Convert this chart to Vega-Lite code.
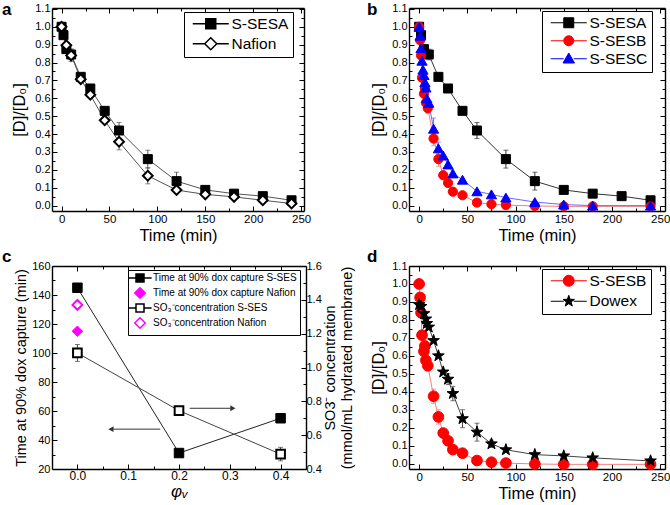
{
"$schema": "https://vega.github.io/schema/vega-lite/v6.json",
"background": "white",
"padding": {"left": 2, "top": 0, "right": 0, "bottom": 0},
"config": {
  "font": "Liberation Sans",
  "view": {"stroke": null},
  "axis": {"grid": false, "domainColor": "#000", "domainWidth": 1.4, "tickColor": "#000", "tickWidth": 1, "labelColor": "#000", "labelFontSize": 11, "titleColor": "#000", "titleFontWeight": "normal", "titleFontSize": 16.5, "labelFont": "Liberation Sans", "titleFont": "Liberation Sans", "labelPadding": 7, "labelFlush": false, "labelOverlap": false},
  "legend": {"strokeColor": "#000", "fillColor": "#fff", "labelColor": "#000", "labelFont": "Liberation Sans", "cornerRadius": 0, "strokeWidth": 1},
  "title": {"font": "Liberation Sans", "color": "#000", "fontWeight": "bold", "fontSize": 17, "anchor": "start", "frame": "group", "offset": 0, "baseline": "alphabetic"}
},
"datasets": {
  "a": [
    {"s":"S-SESA","t":0,"v":1.0,"e":0},
    {"s":"S-SESA","t":2,"v":0.953,"e":0},
    {"s":"S-SESA","t":5,"v":0.875,"e":0},
    {"s":"S-SESA","t":10,"v":0.845,"e":0.03},
    {"s":"S-SESA","t":20,"v":0.72,"e":0},
    {"s":"S-SESA","t":30,"v":0.655,"e":0},
    {"s":"S-SESA","t":45,"v":0.53,"e":0},
    {"s":"S-SESA","t":60,"v":0.42,"e":0.045},
    {"s":"S-SESA","t":90,"v":0.26,"e":0.05},
    {"s":"S-SESA","t":120,"v":0.137,"e":0.05},
    {"s":"S-SESA","t":150,"v":0.088,"e":0.02},
    {"s":"S-SESA","t":180,"v":0.067,"e":0},
    {"s":"S-SESA","t":210,"v":0.053,"e":0},
    {"s":"S-SESA","t":240,"v":0.03,"e":0},
    {"s":"Nafion","t":0,"v":1.0,"e":0},
    {"s":"Nafion","t":5,"v":0.897,"e":0},
    {"s":"Nafion","t":10,"v":0.84,"e":0.035},
    {"s":"Nafion","t":20,"v":0.707,"e":0},
    {"s":"Nafion","t":30,"v":0.62,"e":0},
    {"s":"Nafion","t":45,"v":0.477,"e":0},
    {"s":"Nafion","t":60,"v":0.357,"e":0.045},
    {"s":"Nafion","t":90,"v":0.167,"e":0.045},
    {"s":"Nafion","t":120,"v":0.087,"e":0},
    {"s":"Nafion","t":150,"v":0.063,"e":0},
    {"s":"Nafion","t":180,"v":0.049,"e":0},
    {"s":"Nafion","t":210,"v":0.03,"e":0},
    {"s":"Nafion","t":240,"v":0.012,"e":0}
  ],
  "b": [
    {"s":"S-SESA","t":0,"v":1.0,"e":0},
    {"s":"S-SESA","t":2,"v":0.953,"e":0},
    {"s":"S-SESA","t":5,"v":0.875,"e":0},
    {"s":"S-SESA","t":10,"v":0.845,"e":0.03},
    {"s":"S-SESA","t":20,"v":0.72,"e":0},
    {"s":"S-SESA","t":30,"v":0.655,"e":0},
    {"s":"S-SESA","t":45,"v":0.53,"e":0},
    {"s":"S-SESA","t":60,"v":0.42,"e":0.045},
    {"s":"S-SESA","t":90,"v":0.26,"e":0.05},
    {"s":"S-SESA","t":120,"v":0.137,"e":0.05},
    {"s":"S-SESA","t":150,"v":0.088,"e":0.02},
    {"s":"S-SESA","t":180,"v":0.067,"e":0},
    {"s":"S-SESA","t":210,"v":0.053,"e":0},
    {"s":"S-SESA","t":240,"v":0.03,"e":0},
    {"s":"S-SESB","t":0,"v":1.0,"e":0},
    {"s":"S-SESB","t":1,"v":0.925,"e":0},
    {"s":"S-SESB","t":2,"v":0.84,"e":0},
    {"s":"S-SESB","t":3,"v":0.715,"e":0},
    {"s":"S-SESB","t":5,"v":0.625,"e":0},
    {"s":"S-SESB","t":6,"v":0.655,"e":0},
    {"s":"S-SESB","t":7,"v":0.575,"e":0},
    {"s":"S-SESB","t":9,"v":0.545,"e":0.03},
    {"s":"S-SESB","t":15,"v":0.375,"e":0.04},
    {"s":"S-SESB","t":20,"v":0.26,"e":0.04},
    {"s":"S-SESB","t":25,"v":0.17,"e":0.015},
    {"s":"S-SESB","t":30,"v":0.127,"e":0},
    {"s":"S-SESB","t":35,"v":0.078,"e":0},
    {"s":"S-SESB","t":45,"v":0.058,"e":0},
    {"s":"S-SESB","t":60,"v":0.017,"e":0},
    {"s":"S-SESB","t":75,"v":0.008,"e":0},
    {"s":"S-SESB","t":90,"v":0.003,"e":0},
    {"s":"S-SESB","t":120,"v":-0.002,"e":0},
    {"s":"S-SESB","t":150,"v":-0.004,"e":0},
    {"s":"S-SESB","t":180,"v":-0.004,"e":0},
    {"s":"S-SESB","t":240,"v":-0.004,"e":0},
    {"s":"S-SESC","t":0,"v":1.0,"e":0},
    {"s":"S-SESC","t":1,"v":0.95,"e":0},
    {"s":"S-SESC","t":2,"v":0.88,"e":0},
    {"s":"S-SESC","t":3,"v":0.81,"e":0},
    {"s":"S-SESC","t":4,"v":0.76,"e":0},
    {"s":"S-SESC","t":5,"v":0.73,"e":0},
    {"s":"S-SESC","t":6,"v":0.69,"e":0},
    {"s":"S-SESC","t":7,"v":0.66,"e":0},
    {"s":"S-SESC","t":8,"v":0.6,"e":0},
    {"s":"S-SESC","t":10,"v":0.575,"e":0},
    {"s":"S-SESC","t":15,"v":0.43,"e":0.06},
    {"s":"S-SESC","t":20,"v":0.32,"e":0.035},
    {"s":"S-SESC","t":25,"v":0.28,"e":0},
    {"s":"S-SESC","t":30,"v":0.23,"e":0},
    {"s":"S-SESC","t":35,"v":0.18,"e":0},
    {"s":"S-SESC","t":45,"v":0.145,"e":0},
    {"s":"S-SESC","t":60,"v":0.08,"e":0},
    {"s":"S-SESC","t":75,"v":0.063,"e":0},
    {"s":"S-SESC","t":90,"v":0.045,"e":0},
    {"s":"S-SESC","t":120,"v":0.02,"e":0},
    {"s":"S-SESC","t":150,"v":0.006,"e":0},
    {"s":"S-SESC","t":180,"v":0.0,"e":0},
    {"s":"S-SESC","t":240,"v":0.0,"e":0}
  ],
  "d": [
    {"s":"S-SESB","t":0,"v":1.0,"e":0},
    {"s":"S-SESB","t":1,"v":0.925,"e":0},
    {"s":"S-SESB","t":2,"v":0.84,"e":0},
    {"s":"S-SESB","t":3,"v":0.715,"e":0},
    {"s":"S-SESB","t":5,"v":0.625,"e":0},
    {"s":"S-SESB","t":6,"v":0.655,"e":0},
    {"s":"S-SESB","t":7,"v":0.575,"e":0},
    {"s":"S-SESB","t":9,"v":0.545,"e":0.03},
    {"s":"S-SESB","t":15,"v":0.375,"e":0.04},
    {"s":"S-SESB","t":20,"v":0.26,"e":0.04},
    {"s":"S-SESB","t":25,"v":0.17,"e":0.015},
    {"s":"S-SESB","t":30,"v":0.127,"e":0},
    {"s":"S-SESB","t":35,"v":0.078,"e":0},
    {"s":"S-SESB","t":45,"v":0.058,"e":0},
    {"s":"S-SESB","t":60,"v":0.017,"e":0},
    {"s":"S-SESB","t":75,"v":0.008,"e":0},
    {"s":"S-SESB","t":90,"v":0.003,"e":0},
    {"s":"S-SESB","t":120,"v":-0.002,"e":0},
    {"s":"S-SESB","t":150,"v":-0.004,"e":0},
    {"s":"S-SESB","t":180,"v":-0.004,"e":0},
    {"s":"S-SESB","t":240,"v":-0.004,"e":0},
    {"s":"Dowex","t":0,"v":0.885,"e":0},
    {"s":"Dowex","t":2,"v":0.875,"e":0},
    {"s":"Dowex","t":5,"v":0.835,"e":0},
    {"s":"Dowex","t":7,"v":0.805,"e":0},
    {"s":"Dowex","t":8,"v":0.78,"e":0},
    {"s":"Dowex","t":10,"v":0.76,"e":0},
    {"s":"Dowex","t":15,"v":0.685,"e":0},
    {"s":"Dowex","t":20,"v":0.6,"e":0},
    {"s":"Dowex","t":25,"v":0.51,"e":0},
    {"s":"Dowex","t":30,"v":0.47,"e":0.03},
    {"s":"Dowex","t":35,"v":0.39,"e":0.04},
    {"s":"Dowex","t":45,"v":0.25,"e":0.05},
    {"s":"Dowex","t":60,"v":0.175,"e":0.05},
    {"s":"Dowex","t":75,"v":0.11,"e":0.02},
    {"s":"Dowex","t":90,"v":0.077,"e":0.012},
    {"s":"Dowex","t":120,"v":0.05,"e":0},
    {"s":"Dowex","t":150,"v":0.043,"e":0},
    {"s":"Dowex","t":180,"v":0.032,"e":0},
    {"s":"Dowex","t":240,"v":0.015,"e":0.01}
  ],
  "ct": [
    {"s":"Time at 90% dox capture S-SES","x":0,"y":145},
    {"s":"Time at 90% dox capture S-SES","x":0.2,"y":31},
    {"s":"Time at 90% dox capture S-SES","x":0.4,"y":55},
    {"s":"Time at 90% dox capture Nafion","x":0,"y":115}
  ],
  "cs": [
    {"s":"SO₃⁻concentration S-SES","x":0,"y":1.086,"e":0.05},
    {"s":"SO₃⁻concentration S-SES","x":0.2,"y":0.745,"e":0.025},
    {"s":"SO₃⁻concentration S-SES","x":0.4,"y":0.488,"e":0.04},
    {"s":"SO₃⁻concentration Nafion","x":0,"y":1.37,"e":0}
  ],
  "cal": [{"x":0.163,"x2":0.066,"y":47.5}],
  "car": [{"x":0.221,"x2":0.306,"y":0.759}]
},
"columns": 2,
"spacing": {"row": 55, "column": 103},
"bounds": "flush",
"resolve": {"scale": {"color":"independent","fill":"independent","stroke":"independent","shape":"independent"}},
"concat": [
  {
   "width": 252, "height": 203,
   "title": {"text": "a", "dx": -50, "dy": 20},
   "data": {"name": "a"},
   "resolve": {"axis": {"x": "independent", "y": "independent"}},
   "layer": [
    {
     "encoding": {
      "x": {"field":"t","type":"quantitative","scale":{"domain":[-10,253],"nice":false,"zero":false},
            "axis":{"orient":"bottom","values":[0,50,100,150,200,250],"tickSize":-5,"title":"Time (min)","titlePadding":3,"labelFontSize":11.5,"labelPadding":7}},
      "y": {"field":"v","type":"quantitative","scale":{"domain":[-0.03,1.105],"nice":false,"zero":false},
            "axis":{"orient":"left","values":[0,0.1,0.2,0.3,0.4,0.5,0.6,0.7,0.8,0.9,1.0,1.1],"format":".1f","tickSize":-5,"title":"[D]/[D₀]","titlePadding":7,"labelPadding":7}}
     },
     "layer": [
      {"transform":[{"filter":"datum.e > 0"}],"mark":{"type":"errorbar","ticks":true,"thickness":1},
       "encoding":{"yError":{"field":"e"},"color":{"field":"s","type":"nominal","scale":{"range":["#555","#555"]},"legend":null}}},
      {"mark":{"type":"line","strokeWidth":1},"encoding":{"color":{"field":"s","type":"nominal","legend":null}}},
      {"transform":[{"filter":"datum.s == 'S-SESA'"}],"mark":{"type":"point","shape":"square","filled":true,"fill":"#000","stroke":"#000","strokeWidth":1,"size":81,"opacity":1}},
      {"transform":[{"filter":"datum.s == 'Nafion'"}],"mark":{"type":"point","shape":"diamond","filled":true,"fill":"#fff","stroke":"#000","strokeWidth":2,"size":95,"opacity":1}},
      {"transform":[{"filter":"false"}],"mark":{"type":"point","filled":true,"opacity":1},"encoding":{
        "fill":{"field":"s","type":"nominal","scale":{"domain":["S-SESA","Nafion"],"range":["#000","#fff"]},
          "legend":{"orient":"none","legendX":132,"legendY":4,"title":null,"padding":4,"rowPadding":1,"labelFontSize":15.5,"symbolSize":100,"symbolOffset":0,"labelOffset":28,"symbolStrokeWidth":1.5}},
        "stroke":{"field":"s","type":"nominal","scale":{"domain":["S-SESA","Nafion"],"range":["#000","#000"]}},
        "shape":{"field":"s","type":"nominal","scale":{"domain":["S-SESA","Nafion"],"range":["M-0.6,0H2M4,0H6.6M2,-1H4V1H2Z","M-0.6,0H1.8M4.2,0H6.6M3,-1.2L4.2,0L3,1.2L1.8,0Z"]}}
      }}
     ]
    },
    {"mark":{"type":"point","opacity":0},"encoding":{
      "x":{"field":"t","type":"quantitative","axis":{"orient":"top","values":[0,50,100,150,200,250],"tickSize":-5,"labels":false,"title":null}},
      "y":{"field":"v","type":"quantitative","axis":{"orient":"right","values":[0,0.1,0.2,0.3,0.4,0.5,0.6,0.7,0.8,0.9,1.0,1.1],"tickSize":-5,"labels":false,"title":null}}}},
    {"mark":{"type":"point","opacity":0},"encoding":{
      "x":{"field":"t","type":"quantitative","axis":{"orient":"bottom","values":[25,75,125,175,225],"tickSize":-3,"labels":false,"title":null,"domain":false}},
      "y":{"field":"v","type":"quantitative","axis":{"orient":"left","values":[0.05,0.15,0.25,0.35,0.45,0.55,0.65,0.75,0.85,0.95,1.05],"tickSize":-3,"labels":false,"title":null,"domain":false}}}},
    {"mark":{"type":"point","opacity":0},"encoding":{
      "x":{"field":"t","type":"quantitative","axis":{"orient":"top","values":[25,75,125,175,225],"tickSize":-3,"labels":false,"title":null,"domain":false}},
      "y":{"field":"v","type":"quantitative","axis":{"orient":"right","values":[0.05,0.15,0.25,0.35,0.45,0.55,0.65,0.75,0.85,0.95,1.05],"tickSize":-3,"labels":false,"title":null,"domain":false}}}}
   ]
  },
  {
   "width": 256, "height": 203,
   "title": {"text": "b", "dx": -42, "dy": 20},
   "data": {"name": "b"},
   "resolve": {"axis": {"x": "independent", "y": "independent"}},
   "layer": [
    {
     "encoding": {
      "x": {"field":"t","type":"quantitative","scale":{"domain":[-10.5,255],"nice":false,"zero":false},
            "axis":{"orient":"bottom","values":[0,50,100,150,200,250],"tickSize":-5,"title":"Time (min)","titlePadding":3,"labelFontSize":11.5,"labelPadding":7}},
      "y": {"field":"v","type":"quantitative","scale":{"domain":[-0.03,1.105],"nice":false,"zero":false},
            "axis":{"orient":"left","values":[0,0.1,0.2,0.3,0.4,0.5,0.6,0.7,0.8,0.9,1.0,1.1],"format":".1f","tickSize":-5,"title":"[D]/[D₀]","titlePadding":5,"labelPadding":7}}
     },
     "layer": [
      {"transform":[{"filter":"datum.e > 0"}],"mark":{"type":"errorbar","ticks":true,"thickness":1},
       "encoding":{"yError":{"field":"e"},"color":{"field":"s","type":"nominal","scale":{"range":["#333","#f08080","#6a6aff"]},"legend":null}}},
      {"mark":{"type":"line","strokeWidth":1},"encoding":{"color":{"field":"s","type":"nominal","legend":null}}},
      {"transform":[{"filter":"datum.s == 'S-SESA'"}],"mark":{"type":"point","shape":"square","filled":true,"fill":"#000","stroke":"#000","strokeWidth":1,"size":81,"opacity":1}},
      {"transform":[{"filter":"datum.s == 'S-SESB'"}],"mark":{"type":"point","shape":"circle","filled":true,"fill":"#f00","stroke":"#f00","strokeWidth":1,"size":85,"opacity":1}},
      {"transform":[{"filter":"datum.s == 'S-SESC'"}],"mark":{"type":"point","shape":"triangle-up","filled":true,"fill":"#00f","stroke":"#00f","strokeWidth":1,"size":105,"opacity":1}},
      {"transform":[{"filter":"false"}],"mark":{"type":"point","filled":true,"opacity":1},"encoding":{
        "fill":{"field":"s","type":"nominal","scale":{"domain":["S-SESA","S-SESB","S-SESC"],"range":["#000","#f00","#00f"]},
          "legend":{"orient":"none","legendX":133,"legendY":3,"title":null,"padding":4,"rowPadding":1,"labelFontSize":15.5,"symbolSize":100,"symbolOffset":0,"labelOffset":28,"symbolStrokeWidth":1}},
        "stroke":{"field":"s","type":"nominal","scale":{"domain":["S-SESA","S-SESB","S-SESC"],"range":["#000","#f00","#00f"]}},
        "shape":{"field":"s","type":"nominal","scale":{"domain":["S-SESA","S-SESB","S-SESC"],"range":["M-0.6,0H2M4,0H6.6M2,-1H4V1H2Z","M-0.6,0H2M4,0H6.6M2,0A1,1,0,1,0,4,0A1,1,0,1,0,2,0Z","M-0.6,0H2M4,0H6.6M3,-1.15L4.15,0.85L1.85,0.85Z"]}}
      }}
     ]
    },
    {"mark":{"type":"point","opacity":0},"encoding":{
      "x":{"field":"t","type":"quantitative","axis":{"orient":"top","values":[0,50,100,150,200,250],"tickSize":-5,"labels":false,"title":null}},
      "y":{"field":"v","type":"quantitative","axis":{"orient":"right","values":[0,0.1,0.2,0.3,0.4,0.5,0.6,0.7,0.8,0.9,1.0,1.1],"tickSize":-5,"labels":false,"title":null}}}},
    {"mark":{"type":"point","opacity":0},"encoding":{
      "x":{"field":"t","type":"quantitative","axis":{"orient":"bottom","values":[25,75,125,175,225],"tickSize":-3,"labels":false,"title":null,"domain":false}},
      "y":{"field":"v","type":"quantitative","axis":{"orient":"left","values":[0.05,0.15,0.25,0.35,0.45,0.55,0.65,0.75,0.85,0.95,1.05],"tickSize":-3,"labels":false,"title":null,"domain":false}}}},
    {"mark":{"type":"point","opacity":0},"encoding":{
      "x":{"field":"t","type":"quantitative","axis":{"orient":"top","values":[25,75,125,175,225],"tickSize":-3,"labels":false,"title":null,"domain":false}},
      "y":{"field":"v","type":"quantitative","axis":{"orient":"right","values":[0.05,0.15,0.25,0.35,0.45,0.55,0.65,0.75,0.85,0.95,1.05],"tickSize":-3,"labels":false,"title":null,"domain":false}}}}
   ]
  },
  {
   "width": 254, "height": 203,
   "title": {"text": "c", "dx": -50, "dy": 10},
   "resolve": {"scale": {"y": "independent"}, "axis": {"x": "independent", "y": "independent"}},
   "layer": [
    {
     "data": {"name": "ct"},
     "encoding": {
      "x": {"field":"x","type":"quantitative","scale":{"domain":[-0.05,0.45],"nice":false,"zero":false},
            "axis":{"orient":"bottom","values":[0,0.1,0.2,0.3,0.4],"format":".1f","tickSize":-5,"title":"φᵥ","titleFontStyle":"italic","titleFontSize":17,"titlePadding":2,"labelFontSize":12,"labelPadding":6.5}},
      "y": {"field":"y","type":"quantitative","scale":{"domain":[20,160],"nice":false,"zero":false},
            "axis":{"orient":"left","values":[20,40,60,80,100,120,140,160],"tickSize":-5,"title":"Time at 90% dox capture (min)","titleFontSize":14.5,"titlePadding":3,"labelFontSize":11,"labelPadding":7}}
     },
     "layer": [
      {"transform":[{"filter":"indexof(datum.s,'S-SES') >= 0"}],"mark":{"type":"line","color":"#222","strokeWidth":1}},
      {"transform":[{"filter":"indexof(datum.s,'S-SES') >= 0"}],"mark":{"type":"point","shape":"square","filled":true,"fill":"#000","stroke":"#000","strokeWidth":1,"size":90,"opacity":1}},
      {"transform":[{"filter":"indexof(datum.s,'Nafion') >= 0"}],"mark":{"type":"point","shape":"diamond","filled":true,"fill":"#f0f","stroke":"#f0f","strokeWidth":1,"size":110,"opacity":1}},
      {"data":{"name":"cal"},"mark":{"type":"rule","color":"#333","strokeWidth":1},"encoding":{"x2":{"field":"x2"}}},
      {"data":{"name":"cal"},"mark":{"type":"point","shape":"triangle-left","filled":true,"color":"#333","size":35,"opacity":1},"encoding":{"x":{"field":"x2","type":"quantitative"}}},
      {"transform":[{"filter":"false"}],"mark":{"type":"point","filled":true,"opacity":1},"encoding":{
        "fill":{"field":"s","type":"nominal","scale":{"domain":["Time at 90% dox capture S-SES","Time at 90% dox capture Nafion","SO₃⁻concentration S-SES","SO₃⁻concentration Nafion"],"range":["#000","#f0f","#fff","#fff"]},
          "legend":{"orient":"none","legendX":76,"legendY":4,"title":null,"padding":3,"rowPadding":-1,"labelFontSize":10,"labelLimit":300,"symbolSize":64,"symbolOffset":0,"labelOffset":12,"symbolStrokeWidth":1.5}},
        "stroke":{"field":"s","type":"nominal","scale":{"domain":["Time at 90% dox capture S-SES","Time at 90% dox capture Nafion","SO₃⁻concentration S-SES","SO₃⁻concentration Nafion"],"range":["#000","#f0f","#000","#f0f"]}},
        "shape":{"field":"s","type":"nominal","scale":{"domain":["Time at 90% dox capture S-SES","Time at 90% dox capture Nafion","SO₃⁻concentration S-SES","SO₃⁻concentration Nafion"],"range":["M-1.9,0H0M2,0H3.9M0,-1H2V1H0Z","M1,-1.3L2.3,0L1,1.3L-0.3,0Z","M-1.9,0H0M2,0H3.9M0,-1H2V1H0Z","M1,-1.3L2.3,0L1,1.3L-0.3,0Z"]}}
      }}
     ]
    },
    {
     "data": {"name": "cs"},
     "encoding": {
      "x": {"field":"x","type":"quantitative","scale":{"domain":[-0.05,0.45],"nice":false,"zero":false},
            "axis":{"orient":"top","values":[0,0.1,0.2,0.3,0.4],"tickSize":-5,"labels":false,"title":null}},
      "y": {"field":"y","type":"quantitative","scale":{"domain":[0.4,1.6],"nice":false,"zero":false},
            "axis":{"orient":"right","values":[0.4,0.6,0.8,1.0,1.2,1.4,1.6],"format":".1f","tickSize":-5,"title":["SO3⁻ concentration","(mmol/mL hydrated membrane)"],"titleAngle":270,"titleFontSize":14.5,"titlePadding":0,"labelFontSize":11,"labelPadding":5}}
     },
     "layer": [
      {"transform":[{"filter":"datum.e > 0"}],"mark":{"type":"errorbar","ticks":true,"thickness":1,"color":"#444"},"encoding":{"yError":{"field":"e"}}},
      {"transform":[{"filter":"indexof(datum.s,'S-SES') >= 0"}],"mark":{"type":"line","color":"#444","strokeWidth":1}},
      {"transform":[{"filter":"indexof(datum.s,'S-SES') >= 0"}],"mark":{"type":"point","shape":"square","filled":true,"fill":"#fff","stroke":"#000","strokeWidth":2,"size":75,"opacity":1}},
      {"transform":[{"filter":"indexof(datum.s,'Nafion') >= 0"}],"mark":{"type":"point","shape":"diamond","filled":true,"fill":"#fff","stroke":"#f0f","strokeWidth":2,"size":95,"opacity":1}},
      {"data":{"name":"car"},"mark":{"type":"rule","color":"#333","strokeWidth":1},"encoding":{"x2":{"field":"x2"}}},
      {"data":{"name":"car"},"mark":{"type":"point","shape":"triangle-right","filled":true,"color":"#333","size":35,"opacity":1},"encoding":{"x":{"field":"x2","type":"quantitative"}}}
     ]
    },
    {"data":{"name":"ct"},"mark":{"type":"point","opacity":0},"encoding":{
      "x":{"field":"x","type":"quantitative","scale":{"domain":[-0.05,0.45],"nice":false,"zero":false},"axis":{"orient":"bottom","values":[0.05,0.15,0.25,0.35],"tickSize":-3,"labels":false,"title":null,"domain":false}},
      "y":{"field":"y","type":"quantitative","scale":{"domain":[20,160],"nice":false,"zero":false},"axis":{"orient":"left","values":[30,50,70,90,110,130,150],"tickSize":-3,"labels":false,"title":null,"domain":false}}}},
    {"data":{"name":"cs"},"mark":{"type":"point","opacity":0},"encoding":{
      "x":{"field":"x","type":"quantitative","scale":{"domain":[-0.05,0.45],"nice":false,"zero":false},"axis":{"orient":"top","values":[0.05,0.15,0.25,0.35],"tickSize":-3,"labels":false,"title":null,"domain":false}},
      "y":{"field":"y","type":"quantitative","scale":{"domain":[0.4,1.6],"nice":false,"zero":false},"axis":{"orient":"right","values":[0.5,0.7,0.9,1.1,1.3,1.5],"tickSize":-3,"labels":false,"title":null,"domain":false}}}}
   ]
  },
  {
   "width": 256, "height": 203,
   "title": {"text": "d", "dx": -42, "dy": 10},
   "data": {"name": "d"},
   "resolve": {"axis": {"x": "independent", "y": "independent"}},
   "layer": [
    {
     "encoding": {
      "x": {"field":"t","type":"quantitative","scale":{"domain":[-10.5,255],"nice":false,"zero":false},
            "axis":{"orient":"bottom","values":[0,50,100,150,200,250],"tickSize":-5,"title":"Time (min)","titlePadding":3,"labelFontSize":11.5,"labelPadding":7}},
      "y": {"field":"v","type":"quantitative","scale":{"domain":[-0.03,1.1],"nice":false,"zero":false},
            "axis":{"orient":"left","values":[0,0.1,0.2,0.3,0.4,0.5,0.6,0.7,0.8,0.9,1.0,1.1],"format":".1f","tickSize":-5,"title":"[D]/[D₀]","titlePadding":5,"labelPadding":7}}
     },
     "layer": [
      {"transform":[{"filter":"datum.e > 0"}],"mark":{"type":"errorbar","ticks":true,"thickness":1},
       "encoding":{"yError":{"field":"e"},"color":{"field":"s","type":"nominal","scale":{"range":["#444","#f08080"]},"legend":null}}},
      {"mark":{"type":"line","strokeWidth":1},"encoding":{"color":{"field":"s","type":"nominal","legend":null}}},
      {"transform":[{"filter":"datum.s == 'S-SESB'"}],"mark":{"type":"point","shape":"circle","filled":true,"fill":"#f00","stroke":"#f00","strokeWidth":1,"size":115,"opacity":1}},
      {"transform":[{"filter":"datum.s == 'Dowex'"}],"mark":{"type":"point","shape":"M0,-1L0.235,-0.324L0.951,-0.309L0.38,0.124L0.588,0.809L0,0.4L-0.588,0.809L-0.38,0.124L-0.951,-0.309L-0.235,-0.324Z","filled":true,"fill":"#000","stroke":"#000","strokeWidth":1,"size":150,"opacity":1}},
      {"transform":[{"filter":"false"}],"mark":{"type":"point","filled":true,"opacity":1},"encoding":{
        "fill":{"field":"s","type":"nominal","scale":{"domain":["S-SESB","Dowex"],"range":["#f00","#000"]},
          "legend":{"orient":"none","legendX":133,"legendY":3,"title":null,"padding":4,"rowPadding":2.5,"labelFontSize":15.5,"symbolSize":100,"symbolOffset":0,"labelOffset":28,"symbolStrokeWidth":1}},
        "stroke":{"field":"s","type":"nominal","scale":{"domain":["S-SESB","Dowex"],"range":["#f00","#000"]}},
        "shape":{"field":"s","type":"nominal","scale":{"domain":["S-SESB","Dowex"],"range":["M-0.6,0H1.9M4.1,0H6.6M1.9,0A1.1,1.1,0,1,0,4.1,0A1.1,1.1,0,1,0,1.9,0Z","M-0.6,0H2M4,0H6.6M3,-1.2L3.28,-0.39L4.14,-0.37L3.46,0.15L3.71,0.97L3,0.48L2.29,0.97L2.54,0.15L1.86,-0.37L2.72,-0.39Z"]}}
      }}
     ]
    },
    {"mark":{"type":"point","opacity":0},"encoding":{
      "x":{"field":"t","type":"quantitative","axis":{"orient":"top","values":[0,50,100,150,200,250],"tickSize":-5,"labels":false,"title":null}},
      "y":{"field":"v","type":"quantitative","axis":{"orient":"right","values":[0,0.1,0.2,0.3,0.4,0.5,0.6,0.7,0.8,0.9,1.0,1.1],"tickSize":-5,"labels":false,"title":null}}}},
    {"mark":{"type":"point","opacity":0},"encoding":{
      "x":{"field":"t","type":"quantitative","axis":{"orient":"bottom","values":[25,75,125,175,225],"tickSize":-3,"labels":false,"title":null,"domain":false}},
      "y":{"field":"v","type":"quantitative","axis":{"orient":"left","values":[0.05,0.15,0.25,0.35,0.45,0.55,0.65,0.75,0.85,0.95,1.05],"tickSize":-3,"labels":false,"title":null,"domain":false}}}},
    {"mark":{"type":"point","opacity":0},"encoding":{
      "x":{"field":"t","type":"quantitative","axis":{"orient":"top","values":[25,75,125,175,225],"tickSize":-3,"labels":false,"title":null,"domain":false}},
      "y":{"field":"v","type":"quantitative","axis":{"orient":"right","values":[0.05,0.15,0.25,0.35,0.45,0.55,0.65,0.75,0.85,0.95,1.05],"tickSize":-3,"labels":false,"title":null,"domain":false}}}}
   ]
  }
]
}
